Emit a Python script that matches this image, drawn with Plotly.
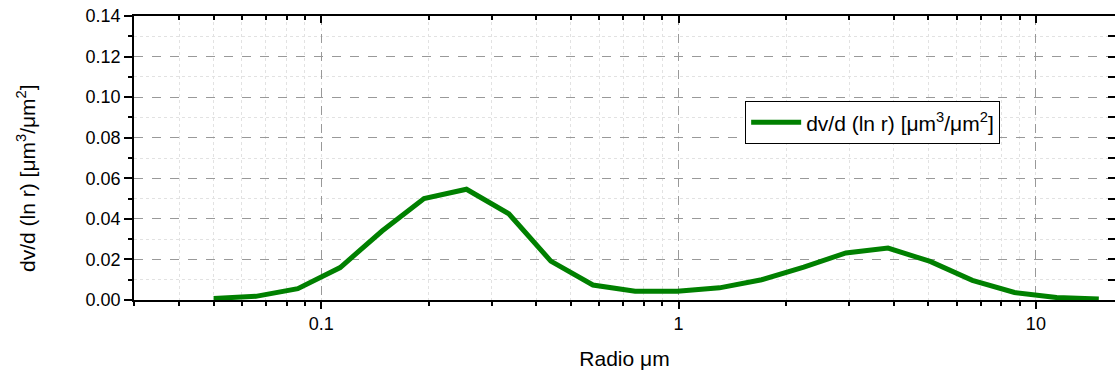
import plotly.graph_objects as go
import numpy as np

radius = [0.050, 0.0656, 0.086, 0.113, 0.148, 0.194, 0.255, 0.335, 0.439, 0.576,
          0.756, 0.992, 1.302, 1.708, 2.241, 2.940, 3.857, 5.061, 6.641, 8.713,
          11.432, 15.000]
dv = [0.0008, 0.0018, 0.0056, 0.0160, 0.0340, 0.0500, 0.0546, 0.0425, 0.0192, 0.0074,
      0.0043, 0.0043, 0.0060, 0.0100, 0.0162, 0.0232, 0.0256, 0.0190, 0.0097, 0.0037,
      0.0012, 0.0005]
series_name = "dv/d (ln r) [μm<sup>3</sup>/μm<sup>2</sup>]"
x_title = "Radio μm"
y_title = "dv/d (ln r) [μm<sup>3</sup>/μm<sup>2</sup>]"
x_ticks = [0.1, 1, 10]
x_ticklabels = ["0.1", "1", "10"]

xr = [np.log10(0.02993), np.log10(16.65)]
yr = [0, 0.14]

FAM = "Liberation Sans, Arial, sans-serif"

fig = go.Figure()
fig.add_trace(go.Scatter(x=radius, y=dv, mode="lines", name=series_name,
                         line=dict(color="#008000", width=5)))
# invisible trace to anchor mirror axes
fig.add_trace(go.Scatter(x=[1], y=[0], xaxis="x2", yaxis="y2", mode="markers",
                         marker=dict(opacity=0), showlegend=False, hoverinfo="skip"))

font = dict(family=FAM, size=18, color="#000")

fig.update_layout(
    width=1115, height=374,
    margin=dict(l=134, r=0, t=16, b=74),
    paper_bgcolor="white", plot_bgcolor="white",
    font=font,
    showlegend=True,
    legend=dict(x=0.623, y=0.70, xanchor="left", yanchor="top",
                bordercolor="#000", borderwidth=1, bgcolor="white",
                font=dict(family=FAM, size=21, color="#000"),
                itemwidth=50, tracegroupgap=0),
    xaxis=dict(type="log", range=xr, tickvals=x_ticks, ticktext=x_ticklabels,
               showline=True, linecolor="#000", linewidth=1.5,
               ticks="outside", ticklen=7, tickwidth=1.5, tickcolor="#000",
               showgrid=True, gridcolor="#999", griddash="dash", gridwidth=1,
               zeroline=False,
               minor=dict(ticks="outside", ticklen=4, tickwidth=1.5, tickcolor="#000",
                          showgrid=True, gridcolor="#e2e2e2", griddash="dot", dtick="D1"),
               title=dict(text=x_title, standoff=18,
                          font=dict(family=FAM, size=21, color="#000")),
               tickfont=font),
    yaxis=dict(range=yr, dtick=0.02, tickformat=".2f",
               showline=True, linecolor="#000", linewidth=1.5,
               ticks="outside", ticklen=8, tickwidth=1.5, tickcolor="#000",
               showgrid=True, gridcolor="#999", griddash="dash", gridwidth=1,
               zeroline=False,
               minor=dict(ticks="outside", ticklen=4, tickwidth=1.5, tickcolor="#000",
                          showgrid=True, gridcolor="#e2e2e2", griddash="dot", dtick=0.01),
               tickfont=font),
    xaxis2=dict(type="log", range=xr, overlaying="x", side="top", anchor="y2",
                tickvals=x_ticks, showticklabels=False,
                showline=True, linecolor="#000", linewidth=1.5,
                ticks="inside", ticklen=7, tickwidth=1.5, tickcolor="#000",
                showgrid=False, zeroline=False,
                minor=dict(ticks="inside", ticklen=4, tickwidth=1.5, tickcolor="#000",
                           showgrid=False, dtick="D1")),
    yaxis2=dict(range=yr, overlaying="y", side="right", anchor="x2", dtick=0.02,
                showticklabels=False,
                showline=True, linecolor="#000", linewidth=1.5,
                ticks="inside", ticklen=7, tickwidth=1.5, tickcolor="#000",
                showgrid=False, zeroline=False,
                minor=dict(ticks="inside", ticklen=7, tickwidth=1.5, tickcolor="#000",
                           showgrid=False, dtick=0.01)),
    annotations=[dict(text=y_title, textangle=-90, xref="paper", yref="paper",
                      x=-0.110, y=0.43, xanchor="center", yanchor="middle",
                      showarrow=False, font=dict(family=FAM, size=21, color="#000"))],
)

fig.write_html("out.html")
